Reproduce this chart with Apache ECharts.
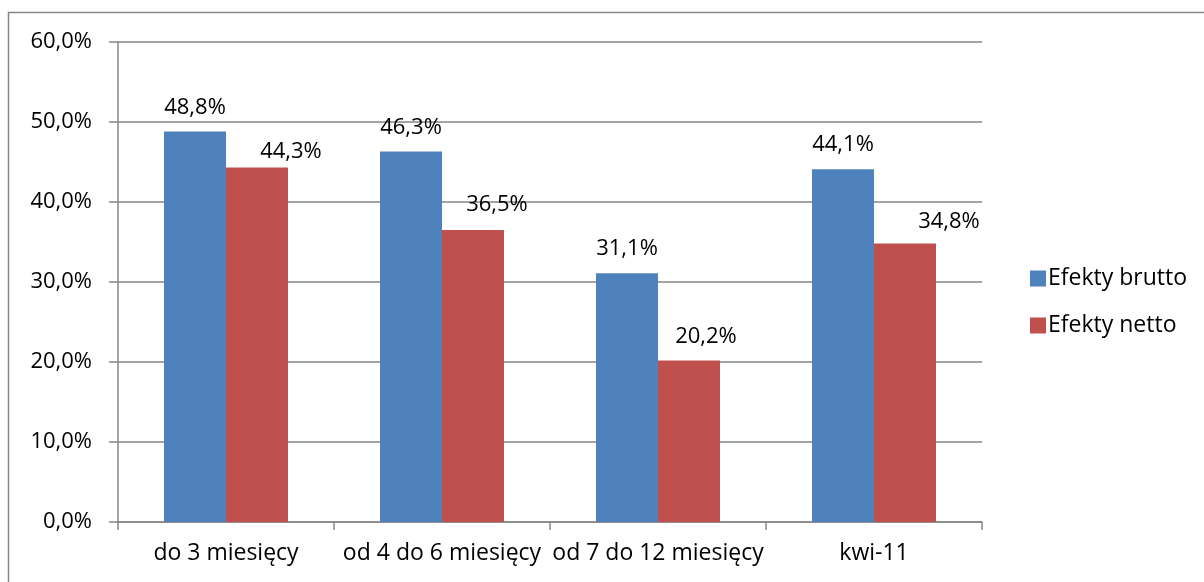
<!DOCTYPE html>
<html><head><meta charset="utf-8">
<script src="https://cdn.jsdelivr.net/npm/echarts@6/dist/echarts.min.js"></script>
<style>html,body{margin:0;padding:0;background:#fff}#c{width:1204px;height:582px}</style>
</head><body><div id="c"></div>
<script>
const categories = ['do 3 miesięcy', 'od 4 do 6 miesięcy', 'od 7 do 12 miesięcy', 'kwi-11'];
const brutto = [48.8, 46.3, 31.1, 44.1];
const netto = [44.3, 36.5, 20.2, 34.8];
const seriesNames = ['Efekty brutto', 'Efekty netto'];
const yTicks = { min: 0, max: 60, interval: 10 };

// label placement tweaks (style only, pixels) for the netto labels, as placed in the original
const nettoLabelOffsets = [[34, 8], [24, -1], [17, 0], [44, 2]];

const FONT = '"Open Sans", "Noto Sans", sans-serif';
const NUM = 22, TXT = 23;
const fmt = v => v.toFixed(1).replace('.', ',') + '%';
const chart = echarts.init(document.getElementById('c'), null, { renderer: 'canvas' });
chart.setOption({
  animation: false,
  backgroundColor: '#fff',
  textStyle: { fontFamily: FONT },
  graphic: [{ type: 'rect', shape: { x: 8.5, y: 12.5, width: 1210, height: 600 }, style: { fill: 'none', stroke: '#868686', lineWidth: 1.5 }, silent: true }],
  grid: { left: 118, right: 222, top: 42, bottom: 60, containLabel: false },
  legend: {
    orient: 'vertical', left: 1025, top: 262, itemWidth: 16, itemHeight: 16, itemGap: 24,
    icon: 'rect',
    textStyle: { fontSize: TXT, color: '#000', fontFamily: FONT, padding: [0, 0, 0, -3] },
    data: seriesNames
  },
  xAxis: {
    type: 'category', data: categories,
    axisLine: { lineStyle: { color: '#868686', width: 1.5 } },
    axisTick: { show: true, length: 8, alignWithLabel: false, lineStyle: { color: '#868686', width: 1.5 } },
    axisLabel: { fontSize: TXT, color: '#000', margin: 20, fontFamily: FONT, interval: 0 }
  },
  yAxis: {
    type: 'value', min: yTicks.min, max: yTicks.max, interval: yTicks.interval,
    axisLine: { show: true, lineStyle: { color: '#868686', width: 1.5 } },
    axisTick: { show: true, length: 9, inside: false, lineStyle: { color: '#868686', width: 1.5 } },
    splitLine: { lineStyle: { color: '#868686', width: 1.5 } },
    axisLabel: { fontSize: NUM, color: '#000', margin: 26, fontFamily: FONT, formatter: v => fmt(v) }
  },
  series: [
    { name: seriesNames[0], type: 'bar', data: brutto, barGap: '0%', barCategoryGap: '42.6%',
      itemStyle: { color: '#4F81BD' },
      label: { show: true, position: 'top', distance: 13, fontSize: NUM, color: '#000', fontFamily: FONT, formatter: p => fmt(p.value) } },
    { name: seriesNames[1], type: 'bar',
      data: netto.map((v, i) => ({ value: v, label: { offset: nettoLabelOffsets[i] } })),
      barGap: '0%', barCategoryGap: '42.6%',
      itemStyle: { color: '#C0504D' },
      label: { show: true, position: 'top', distance: 13, fontSize: NUM, color: '#000', fontFamily: FONT, formatter: p => fmt(p.value) } }
  ]
});
</script></body></html>
